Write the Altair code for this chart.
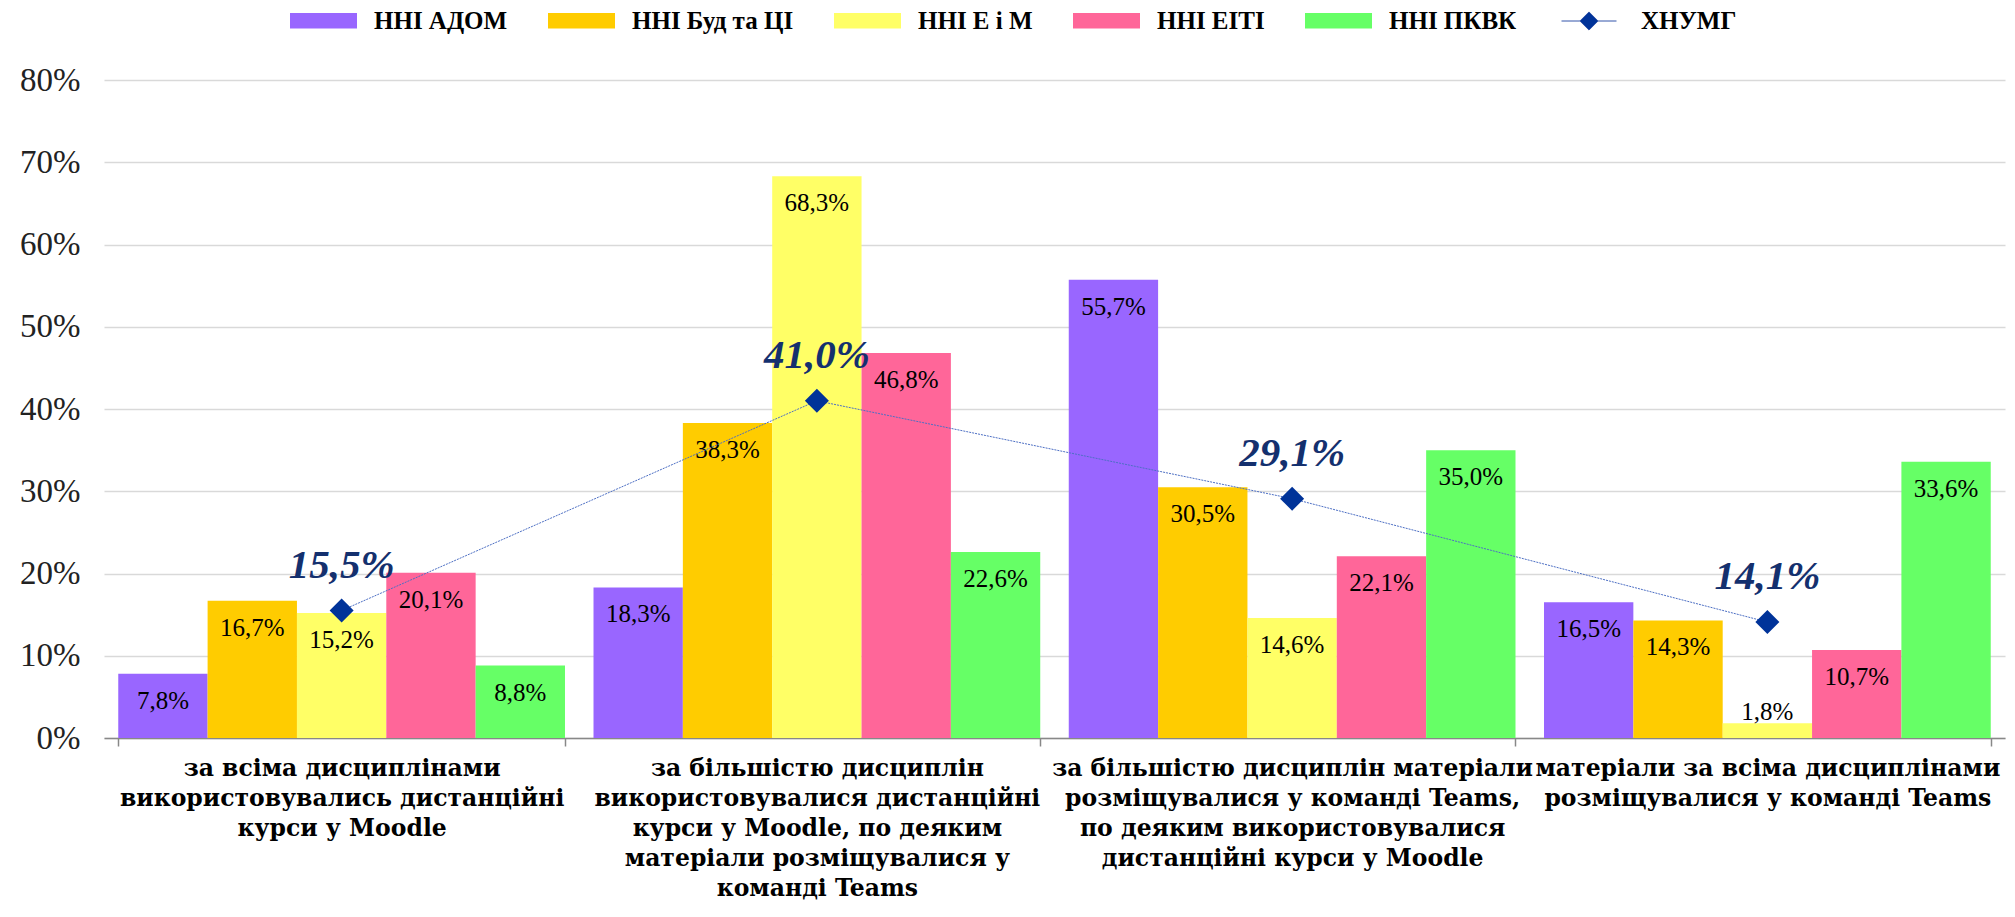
import altair as alt
import pandas as pd

categories = [
    "за всіма дисциплінами|використовувались дистанційні|курси у Moodle",
    "за більшістю дисциплін|використовувалися дистанційні|курси у Moodle, по деяким|матеріали розміщувалися у|команді Teams",
    "за більшістю дисциплін матеріали|розміщувалися у команді Teams,|по деяким використовувалися|дистанційні курси у Moodle",
    "матеріали за всіма дисциплінами|розміщувалися у команді Teams",
]
series = ["ННІ АДОМ", "ННІ Буд та ЦІ", "ННІ Е і М", "ННІ ЕІТІ", "ННІ ПКВК"]
colors = ["#9966FF", "#FFCC00", "#FFFF66", "#FF6699", "#66FF66"]
adom = [7.8, 18.3, 55.7, 16.5]
bud = [16.7, 38.3, 30.5, 14.3]
eim = [15.2, 68.3, 14.6, 1.8]
eiti = [20.1, 46.8, 22.1, 10.7]
pkvk = [8.8, 22.6, 35.0, 33.6]
total_name = "ХНУМГ"
total = [15.5, 41.0, 29.1, 14.1]
y_ticks = [0, 10, 20, 30, 40, 50, 60, 70, 80]


def fmt(v):
    return f"{v:.1f}".replace(".", ",") + "%"


rows = []
for s, vals in zip(series, [adom, bud, eim, eiti, pkvk]):
    for c, v in zip(categories, vals):
        rows.append({"category": c, "series": s, "value": v, "label": fmt(v)})
bar_df = pd.DataFrame(rows)
line_df = pd.DataFrame({
    "category": categories,
    "series": [total_name] * len(categories),
    "value": total,
    "label": [fmt(v) for v in total],
})

FONT = "Liberation Serif"
XFONT = "DejaVu Serif"

x_enc = alt.X(
    "category:N",
    sort=categories,
    scale=alt.Scale(paddingInner=0.06, paddingOuter=0.03),
    axis=alt.Axis(
        title=None,
        labelExpr="split(datum.label, '|')",
        labelFont=XFONT,
        labelFontWeight="bold",
        labelFontSize=23.5,
        labelLineHeight=30,
        labelColor="black",
        labelPadding=10,
        labelLimit=1000,
        labelAngle=0,
        labelOverlap=False,
        labelBaseline="top",
        tickBand="extent",
        tickSize=8,
        tickColor="#888888",
        tickWidth=1.5,
        domainColor="#888888",
        domainWidth=1.5,
        grid=False,
    ),
)
y_enc = alt.Y(
    "value:Q",
    scale=alt.Scale(domain=[0, 80]),
    axis=alt.Axis(
        values=y_ticks,
        labelExpr="datum.value + '%'",
        title=None,
        domain=False,
        ticks=False,
        grid=True,
        gridColor="#d9d9d9",
        gridWidth=1.5,
        labelFont=FONT,
        labelFontSize=33,
        labelColor="#222222",
        labelPadding=24,
    ),
)
xoff = alt.XOffset("series:N", sort=series, scale=alt.Scale(paddingInner=0, paddingOuter=0))

base = alt.Chart(bar_df)
bars = base.mark_bar(strokeWidth=0).encode(
    x=x_enc,
    xOffset=xoff,
    y=y_enc,
    color=alt.Color(
        "series:N",
        sort=series,
        scale=alt.Scale(domain=series, range=colors),
        legend=alt.Legend(
            title=None,
            orient="none",
            legendX=186,
            legendY=-93,
            direction="horizontal",
            symbolType="M-1,-0.23H1V0.23H-1Z",
            symbolSize=4489,
            symbolStrokeWidth=0,
            symbolOpacity=1,
            labelFont=FONT,
            labelFontWeight="bold",
            labelFontSize=25,
            labelColor="black",
            labelOffset=17,
            columnPadding=40,
            labelLimit=500,
        ),
    ),
)
bar_text_big = base.transform_filter("datum.value >= 5").mark_text(
    font=FONT, fontSize=25, baseline="middle", dy=27, color="black"
).encode(x=x_enc, xOffset=xoff, y=y_enc, text="label:N")
bar_text_small = base.transform_filter("datum.value < 5").mark_text(
    font=FONT, fontSize=25, baseline="alphabetic", dy=-3, color="black"
).encode(x=x_enc, xOffset=xoff, y=y_enc, text="label:N")

lbase = alt.Chart(line_df)
line = lbase.mark_line(color="#4d6fc4", strokeWidth=1, strokeDash=[2, 1]).encode(x=x_enc, y=y_enc)
points = lbase.mark_point(shape="diamond", filled=True, size=576, opacity=1).encode(
    x=x_enc,
    y=y_enc,
    color=alt.Color(
        "series:N",
        scale=alt.Scale(domain=[total_name], range=["#003399"]),
        legend=alt.Legend(
            title=None,
            orient="none",
            legendX=1457,
            legendY=-87,
            symbolType="M-1,0H-0.33M0.33,0H1M0,-0.33L0.33,0L0,0.33L-0.33,0Z",
            symbolSize=3025,
            symbolStrokeColor="#3355aa",
            symbolStrokeWidth=1,
            symbolOpacity=1,
            labelFont=FONT,
            labelFontWeight="bold",
            labelFontSize=25,
            labelColor="black",
            labelOffset=24,
            labelLimit=500,
        ),
    ),
)
line_text = lbase.mark_text(
    font=FONT, fontSize=41, fontStyle="italic", fontWeight="bold",
    color="#14306e", dy=-45, baseline="middle"
).encode(x=x_enc, y=y_enc, text="label:N")

chart = alt.layer(
    bars, bar_text_big, bar_text_small, line, points, line_text
).resolve_scale(color="independent").properties(
    width=1901,
    height=658,
    autosize=alt.AutoSizeParams(type="none"),
    padding={"left": 96, "top": 72, "right": 2, "bottom": 166},
    background="white",
).configure_view(stroke=None)

chart.save("out.html", embed_options={"renderer": "svg", "actions": False})
